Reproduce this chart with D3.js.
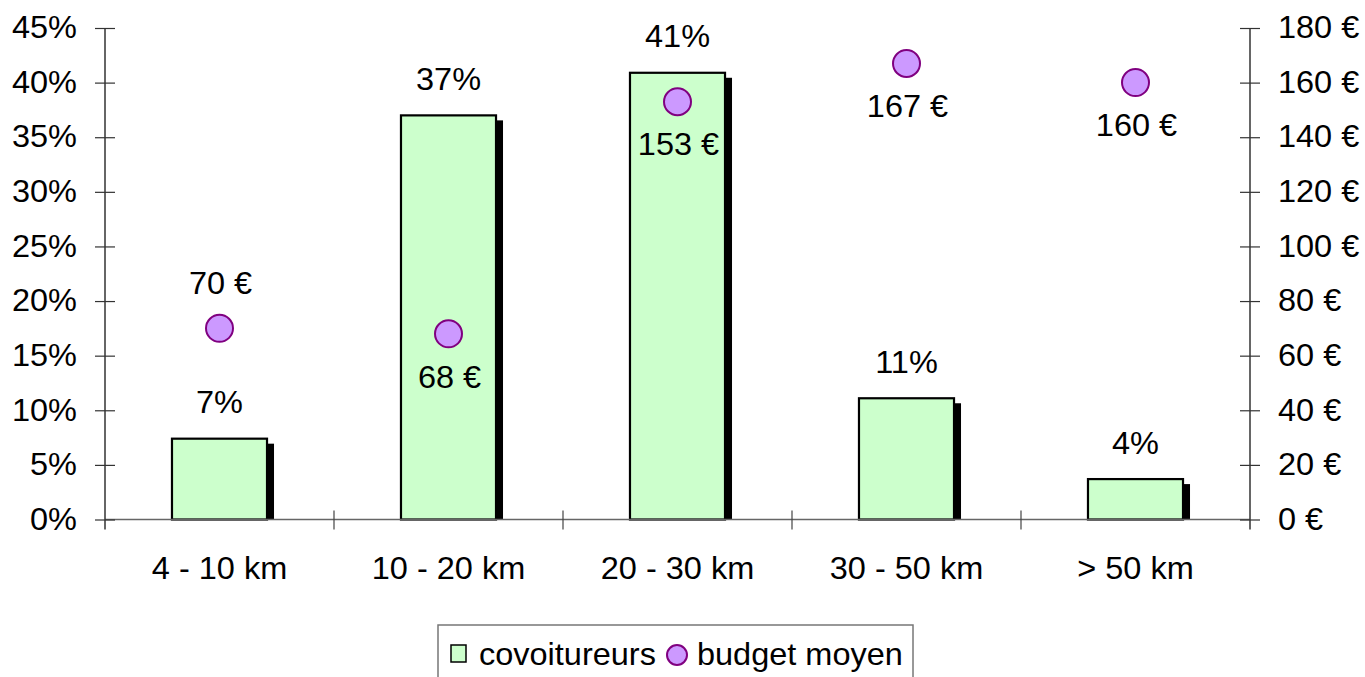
<!DOCTYPE html>
<html>
<head>
<meta charset="utf-8">
<script src="https://cdn.jsdelivr.net/npm/d3@7"></script>
<style>
  html, body { margin: 0; padding: 0; background: #fff; }
  svg text { font-family: "Liberation Sans", Arial, sans-serif; fill: #000; }
</style>
</head>
<body>
<svg id="chart" width="1365" height="677"></svg>
<script>
// Distance classes and series
const categories = ["4 - 10 km", "10 - 20 km", "20 - 30 km", "30 - 50 km", "> 50 km"];
const covoitureurs = [0.074, 0.37, 0.409, 0.111, 0.037];   // share of carpoolers
const budget = [70, 68, 153, 167, 160];                    // average budget in euros
const budgetLabelSide = ["above", "below", "below", "below", "below"];
const leftTicks = [0, 0.05, 0.10, 0.15, 0.20, 0.25, 0.30, 0.35, 0.40, 0.45];
const rightTicks = [0, 20, 40, 60, 80, 100, 120, 140, 160, 180];
const seriesNames = ["covoitureurs", "budget moyen"];

const svg = d3.select("#chart");
const FS = 30.5;
const SX = 1.065;   // slightly wide lettering
const plot = { left: 105, right: 1250, top: 28, bottom: 519.5 };

// Moves x/y into a transform so the text can be widened around its anchor
function widen(sel) {
  sel.attr("transform", function () {
    const tx = +this.getAttribute("x") || 0;
    const ty = +this.getAttribute("y") || 0;
    return `translate(${tx},${ty}) scale(${SX},1)`;
  }).attr("x", 0).attr("y", 0);
}

const x = d3.scaleBand().domain(categories).range([plot.left, plot.right]).padding(0);
const yL = d3.scaleLinear().domain([0, 0.45]).range([plot.bottom, plot.top]);
const yR = d3.scaleLinear().domain([0, 180]).range([plot.bottom, plot.top]);
const barW = x.bandwidth() * 0.415;
const cx = c => x(c) + x.bandwidth() / 2;

// Bars with a drop shadow
const bars = svg.append("g");
categories.forEach((c, i) => {
  const v = covoitureurs[i];
  const x0 = cx(c) - barW / 2;
  bars.append("rect")
    .attr("x", x0 + barW - 1).attr("y", yL(v) + 5)
    .attr("width", 8).attr("height", plot.bottom - yL(v) - 5)
    .attr("fill", "#000");
  bars.append("rect")
    .attr("x", x0).attr("y", yL(v))
    .attr("width", barW).attr("height", plot.bottom - yL(v))
    .attr("fill", "#ccffcc").attr("stroke", "#000").attr("stroke-width", 2.2);
  bars.append("text")
    .attr("x", cx(c)).attr("y", yL(v) - 36)
    .attr("dy", "0.35em").attr("text-anchor", "middle")
    .attr("font-size", FS)
    .text(d3.format(".0%")(v))
    .call(widen);
});

// X axis with category boundary ticks
const xa = svg.append("g");
xa.append("line")
  .attr("x1", plot.left).attr("x2", plot.right)
  .attr("y1", plot.bottom).attr("y2", plot.bottom)
  .attr("stroke", "#666").attr("stroke-width", 1.5);
categories.slice(1).forEach(c => {
  xa.append("line")
    .attr("x1", x(c)).attr("x2", x(c))
    .attr("y1", plot.bottom - 9).attr("y2", plot.bottom + 10)
    .attr("stroke", "#444").attr("stroke-width", 1.2);
});
categories.forEach(c => {
  xa.append("text")
    .attr("x", cx(c)).attr("y", 568)
    .attr("dy", "0.35em").attr("text-anchor", "middle")
    .attr("font-size", FS)
    .text(c)
    .call(widen);
});

// Left axis (percent)
const axL = svg.append("g").attr("transform", `translate(${plot.left},0)`)
  .call(d3.axisLeft(yL).tickValues(leftTicks).tickFormat(d3.format(".0%")).tickSize(10).tickPadding(18));
axL.select(".domain").remove();
axL.selectAll(".tick line").attr("x1", -10).attr("x2", 10).attr("stroke", "#333").attr("stroke-width", 1.2);
axL.selectAll(".tick text").attr("font-size", FS).attr("font-family", "Liberation Sans, Arial, sans-serif").call(widen);
axL.append("line").attr("x1", 0).attr("x2", 0).attr("y1", plot.top).attr("y2", plot.bottom + 10)
  .attr("stroke", "#333").attr("stroke-width", 1.5);

// Right axis (euros)
const axR = svg.append("g").attr("transform", `translate(${plot.right},0)`)
  .call(d3.axisRight(yR).tickValues(rightTicks).tickFormat(d => `${d} €`).tickSize(10).tickPadding(18));
axR.select(".domain").remove();
axR.selectAll(".tick line").attr("x1", -10).attr("x2", 10).attr("stroke", "#333").attr("stroke-width", 1.2);
axR.selectAll(".tick text").attr("font-size", FS).attr("font-family", "Liberation Sans, Arial, sans-serif")
  .attr("x", 28).call(widen);
axR.append("line").attr("x1", 0).attr("x2", 0).attr("y1", plot.top).attr("y2", plot.bottom + 10)
  .attr("stroke", "#333").attr("stroke-width", 1.5);

// Average budget markers
const pts = svg.append("g");
categories.forEach((c, i) => {
  const v = budget[i];
  pts.append("circle")
    .attr("cx", cx(c)).attr("cy", yR(v)).attr("r", 13.5)
    .attr("fill", "#cc99ff").attr("stroke", "#800080").attr("stroke-width", 2);
  const off = budgetLabelSide[i] === "above" ? -45 : 43;
  pts.append("text")
    .attr("x", cx(c) + 1).attr("y", yR(v) + off)
    .attr("dy", "0.35em").attr("text-anchor", "middle")
    .attr("font-size", FS)
    .text(`${v} €`)
    .call(widen);
});

// Legend
const lg = svg.append("g");
lg.append("rect").attr("x", 438).attr("y", 625).attr("width", 475).attr("height", 70)
  .attr("fill", "#fff").attr("stroke", "#777").attr("stroke-width", 1.5);
lg.append("rect").attr("x", 451).attr("y", 645).attr("width", 15).attr("height", 17)
  .attr("fill", "#ccffcc").attr("stroke", "#000").attr("stroke-width", 1.5);
lg.append("text").attr("x", 479).attr("y", 654).attr("dy", "0.35em").attr("font-size", FS)
  .text(seriesNames[0]).call(widen);
lg.append("circle").attr("cx", 677).attr("cy", 655).attr("r", 10)
  .attr("fill", "#cc99ff").attr("stroke", "#800080").attr("stroke-width", 2);
lg.append("text").attr("x", 697).attr("y", 654).attr("dy", "0.35em").attr("font-size", FS)
  .text(seriesNames[1]).call(widen);
</script>
</body>
</html>
